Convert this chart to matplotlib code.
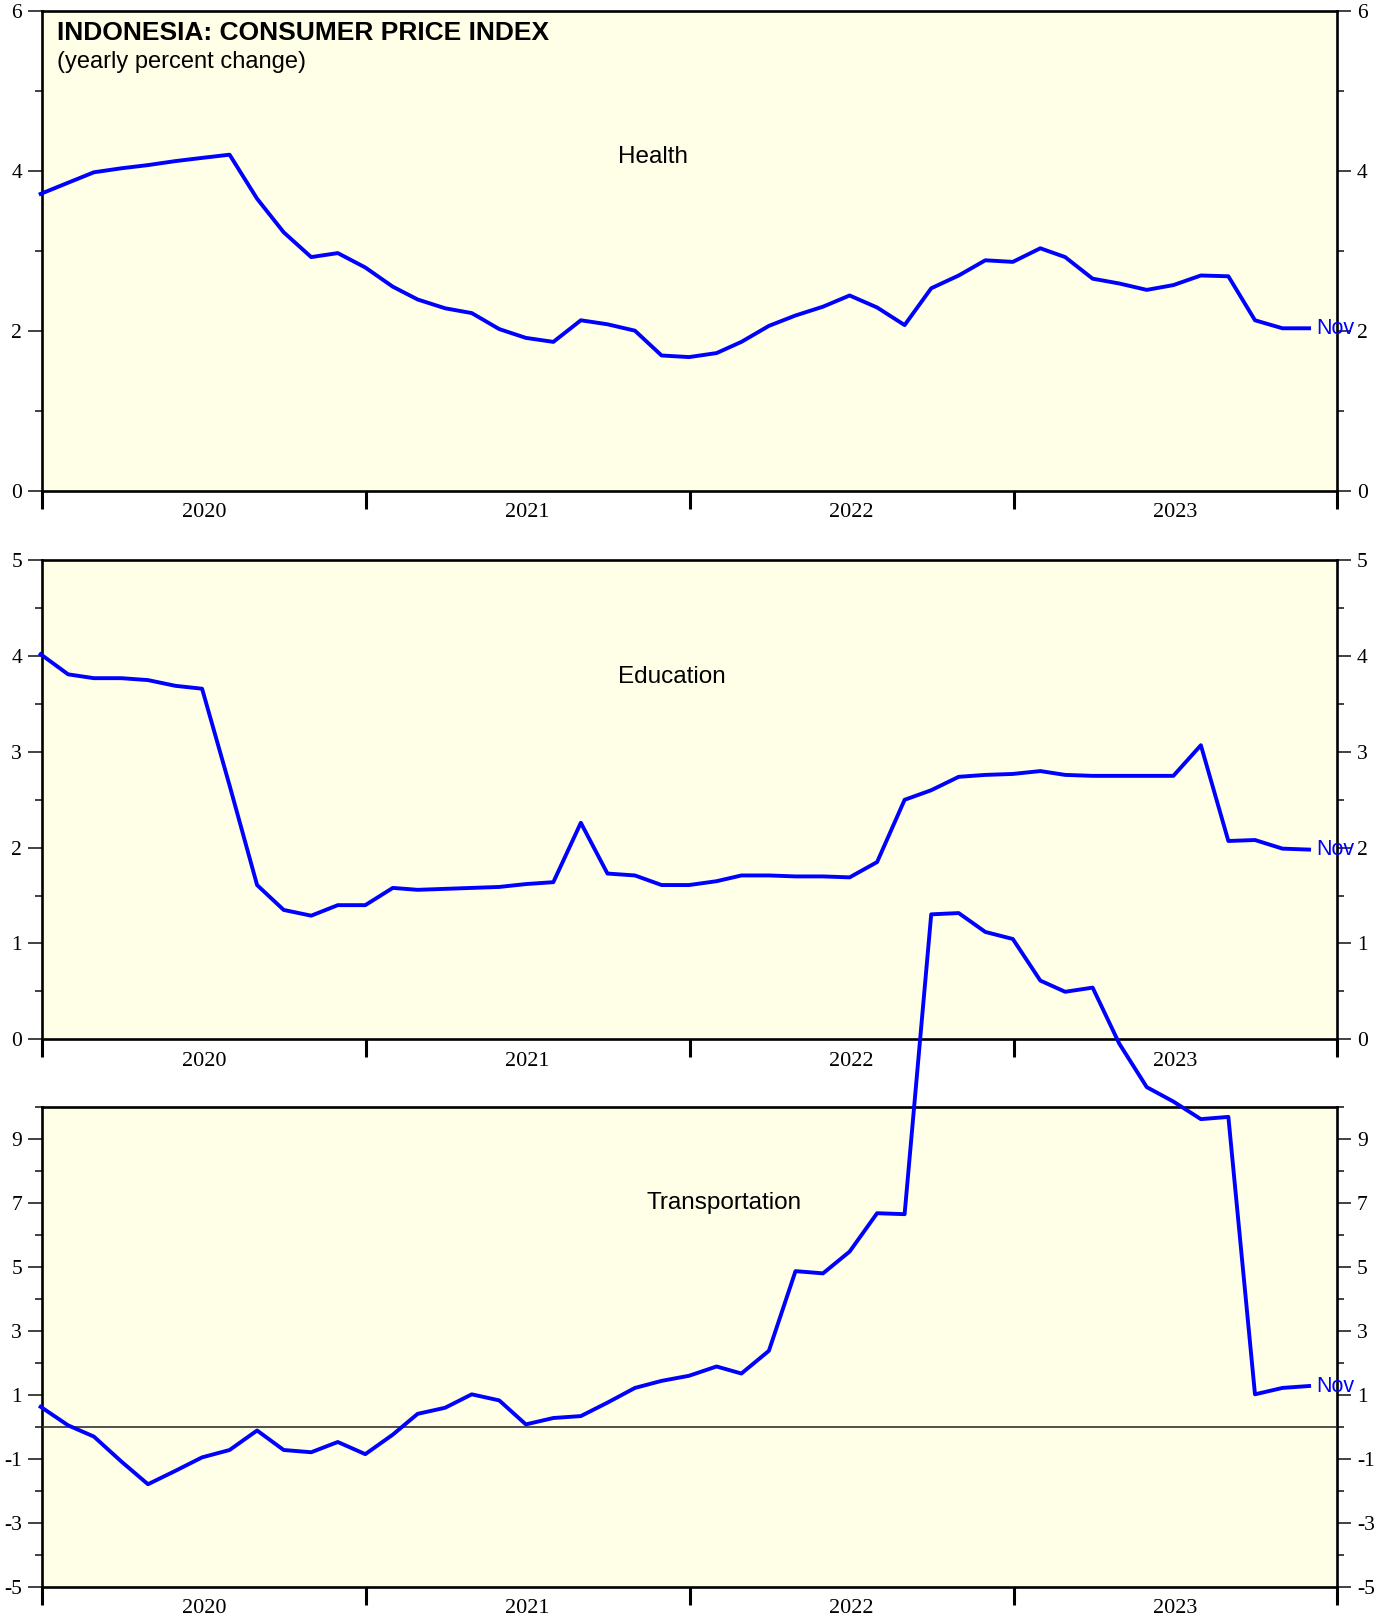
import matplotlib
matplotlib.use("Agg")
import matplotlib.pyplot as plt
import matplotlib.dates as mdates
from matplotlib.ticker import MultipleLocator, NullFormatter
import pandas as pd
import numpy as np

plt.rcParams["font.family"] = ["Liberation Serif", "DejaVu Serif"]
plt.rcParams["axes.unicode_minus"] = False

# monthly observations, Dec 2019 .. Nov 2023 (plotted at month end)
months = pd.date_range("2019-12-31", periods=48, freq="ME")

health = [3.71, 3.85, 3.98, 4.03, 4.07, 4.12, 4.16, 4.20, 3.65, 3.23, 2.92, 2.97,
          2.79, 2.55, 2.39, 2.28, 2.22, 2.02, 1.91, 1.86, 2.13, 2.08, 2.00, 1.69,
          1.67, 1.72, 1.86, 2.06, 2.19, 2.30, 2.44, 2.29, 2.07, 2.53, 2.69, 2.88,
          2.86, 3.03, 2.92, 2.65, 2.59, 2.51, 2.57, 2.69, 2.68, 2.13, 2.03, 2.03]

education = [4.02, 3.81, 3.77, 3.77, 3.75, 3.69, 3.66, 2.65, 1.61, 1.35, 1.29, 1.40,
             1.40, 1.58, 1.56, 1.57, 1.58, 1.59, 1.62, 1.64, 2.26, 1.73, 1.71, 1.61,
             1.61, 1.65, 1.71, 1.71, 1.70, 1.70, 1.69, 1.85, 2.50, 2.60, 2.74, 2.76,
             2.77, 2.80, 2.76, 2.75, 2.75, 2.75, 2.75, 3.07, 2.07, 2.08, 1.99, 1.98]

transport = [0.62, 0.04, -0.31, -1.09, -1.80, -1.38, -0.96, -0.73, -0.12, -0.73, -0.80, -0.48,
             -0.86, -0.25, 0.40, 0.59, 1.01, 0.82, 0.07, 0.27, 0.33, 0.75, 1.21, 1.43,
             1.59, 1.88, 1.66, 2.37, 4.86, 4.79, 5.47, 6.67, 6.64, 16.01, 16.05, 15.46,
             15.24, 13.94, 13.59, 13.72, 11.97, 10.61, 10.16, 9.61, 9.68, 1.01, 1.21, 1.27]

years = [2020, 2021, 2022, 2023]
last_label = "Nov"

panels = [
    # name, data, ylim, major, minor, name pos (axes frac)
    ("Health", health, (0, 6), 2, 1, (0.445, 0.696)),
    ("Education", education, (0, 5), 1, 0.5, (0.445, 0.757)),
    ("Transportation", transport, (-5, 10), 2, 1, (0.467, 0.800)),
]

bg = "#fffee6"
blue = "#0000ff"
sans = ["Liberation Sans", "DejaVu Sans"]

fig = plt.figure(figsize=(13.89, 16.21), dpi=100)
left, width = 0.0299, 0.9330
rects = [(left, 0.6973, width, 0.2961),
         (left, 0.3589, width, 0.2954),
         (left, 0.0212, width, 0.2961)]

for rect, (name, vals, ylim, maj, mnr, npos) in zip(rects, panels):
    ax = fig.add_axes(rect)
    ax.set_facecolor(bg)
    ax.plot(months, vals, color=blue, lw=2.8, clip_on=False, zorder=5)
    ax.set_xlim(pd.Timestamp("2020-01-01"), pd.Timestamp("2024-01-01"))
    ax.set_ylim(*ylim)

    # y axis: major labelled + minor, both sides
    if name == "Transportation":
        ax.set_yticks(np.arange(-5, 10, 2))
        ax.set_yticks(np.arange(-4, 11, 2), minor=True)
        ax.axhline(0, color="#333333", lw=1.2, zorder=3)
    else:
        ax.yaxis.set_major_locator(MultipleLocator(maj))
        ax.yaxis.set_minor_locator(MultipleLocator(mnr))
    ax.tick_params(axis="y", which="both", direction="out", left=True, right=True,
                   labelleft=True, labelright=True, labelsize=15.5, color="#333333")
    ax.tick_params(axis="y", which="major", length=10, width=1.3, pad=4)
    ax.tick_params(axis="y", which="minor", length=5, width=1.3)

    # x axis: year boundaries as ticks, year labels centred in between
    ax.set_xticks([pd.Timestamp(f"{y}-01-01") for y in years + [2024]])
    ax.xaxis.set_major_formatter(NullFormatter())
    ax.set_xticks([pd.Timestamp(f"{y}-07-02") for y in years], minor=True)
    ax.set_xticklabels([str(y) for y in years], minor=True)
    ax.tick_params(axis="x", which="major", direction="out", length=13, width=2.2)
    ax.tick_params(axis="x", which="minor", length=0, labelsize=16, pad=9)

    for sp in ax.spines.values():
        sp.set_linewidth(1.9)

    ax.text(npos[0], npos[1], name, transform=ax.transAxes, ha="left", va="center",
            fontsize=17.5, family=sans)

    ax.annotate(last_label, (months[-1], vals[-1]), xytext=(5, 0),
                textcoords="offset points", ha="left", va="center", color=blue,
                fontsize=15.5, family=sans, annotation_clip=False, zorder=6)

    if name == "Health":
        ax.text(0.012, 0.979, "INDONESIA: CONSUMER PRICE INDEX", transform=ax.transAxes,
                ha="left", va="top", fontsize=19, fontweight="bold", family=sans)
        ax.text(0.012, 0.915, "(yearly percent change)", transform=ax.transAxes,
                ha="left", va="top", fontsize=17, family=sans)

plt.savefig("out.png", dpi=100, facecolor="white")
